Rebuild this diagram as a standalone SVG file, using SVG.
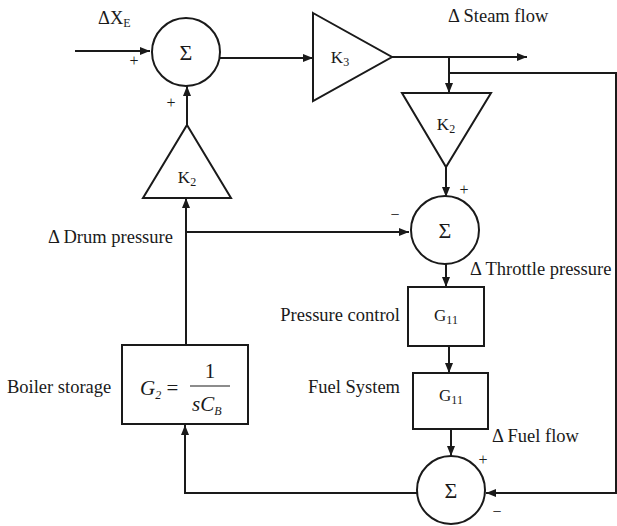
<svg xmlns="http://www.w3.org/2000/svg" width="617" height="526" viewBox="0 0 617 526" font-family="'Liberation Serif', 'Times New Roman', Tinos, 'DejaVu Serif', serif">
<style>
.s{fill:none;stroke:#1a1a1a;stroke-width:2}
.n{fill:#fff;stroke:#1a1a1a;stroke-width:2}
text{font-family:'Liberation Serif','Times New Roman',Tinos,'DejaVu Serif',serif;fill:#1a1a1a}
.t{font-size:18.5px}
.g{font-size:22px;text-anchor:middle}
.k{font-size:17px;text-anchor:middle}
.sub{font-size:12px}
.pm{font-size:16px;text-anchor:middle}
.eq{font-size:21px;font-style:italic}
</style>
<defs>
<marker id="a" viewBox="0 0 10 8" refX="10" refY="4" markerWidth="10" markerHeight="8" markerUnits="userSpaceOnUse" orient="auto">
<path d="M0,0L10,4L0,8z" fill="#1a1a1a"/>
</marker>
</defs>
<rect width="617" height="526" fill="#fff"/>
<g id="connectors" class="s">
<path d="M75,51H150" marker-end="url(#a)"/>
<path d="M220,58H313" marker-end="url(#a)"/>
<path d="M392,57H527" marker-end="url(#a)"/>
<path d="M449,57V93" marker-end="url(#a)"/>
<path d="M449,73H616V493H486" marker-end="url(#a)"/>
<path d="M446,167V197" marker-end="url(#a)"/>
<path d="M446,263V287" marker-end="url(#a)"/>
<path d="M449,346V373" marker-end="url(#a)"/>
<path d="M451,429V456" marker-end="url(#a)"/>
<path d="M417,493H185V425" marker-end="url(#a)"/>
<path d="M186,345V198" marker-end="url(#a)"/>
<path d="M186,232H409" marker-end="url(#a)"/>
<path d="M187,125V86" marker-end="url(#a)"/>
</g>
<g id="sum1">
<circle class="n" cx="186" cy="52" r="34"/>
<text class="g" x="186" y="60">Σ</text>
<text class="pm" x="134" y="66">+</text>
<text class="pm" x="171" y="108">+</text>
<text class="t" x="98" y="24">ΔX<tspan class="sub" dy="3">E</tspan></text>
</g>
<g id="k3">
<path class="n" d="M313,13L392,57L313,101Z"/>
<text class="k" x="340" y="63">K<tspan class="sub" dy="3">3</tspan></text>
</g>
<text class="t" x="448" y="22">Δ Steam flow</text>
<g id="k2down">
<path class="n" d="M402,93H491L446,167Z"/>
<text class="k" x="446" y="130">K<tspan class="sub" dy="3">2</tspan></text>
</g>
<g id="sum2">
<circle class="n" cx="445" cy="230" r="34"/>
<text class="g" x="445" y="238">Σ</text>
<text class="pm" x="464" y="195">+</text>
<text class="pm" x="395" y="220">−</text>
</g>
<text class="t" x="470" y="275">Δ Throttle pressure</text>
<g id="k2up">
<path class="n" d="M187,125L231,198H143Z"/>
<text class="k" x="187" y="183">K<tspan class="sub" dy="3">2</tspan></text>
</g>
<text class="t" x="48" y="243">Δ Drum pressure</text>
<g id="pressure-control">
<rect class="n" x="408" y="287" width="76" height="59"/>
<text class="k" x="446" y="321">G<tspan class="sub" dy="3">11</tspan></text>
<text class="t" x="400" y="321" text-anchor="end">Pressure control</text>
</g>
<g id="fuel-system">
<rect class="n" x="413" y="373" width="75" height="56"/>
<text class="k" x="451" y="401">G<tspan class="sub" dy="3">11</tspan></text>
<text class="t" x="400" y="393" text-anchor="end">Fuel System</text>
</g>
<text class="t" x="492" y="442">Δ Fuel flow</text>
<g id="sum3">
<circle class="n" cx="451" cy="490" r="34"/>
<text class="g" x="451" y="498">Σ</text>
<text class="pm" x="483" y="465">+</text>
<text class="pm" x="497" y="517">−</text>
</g>
<g id="boiler">
<rect class="n" x="122" y="345" width="126" height="79"/>
<text class="eq" x="140" y="395">G<tspan font-size="12" dy="4">2</tspan><tspan font-style="normal" dy="-4"> = </tspan></text>
<line x1="190" y1="386" x2="230" y2="386" stroke="#1a1a1a" stroke-width="1.2"/>
<text x="210" y="378" font-size="21" text-anchor="middle">1</text>
<text class="eq" x="192" y="411">sC<tspan font-size="12" dy="4">B</tspan></text>
<text class="t" x="7" y="393">Boiler storage</text>
</g>
</svg>
